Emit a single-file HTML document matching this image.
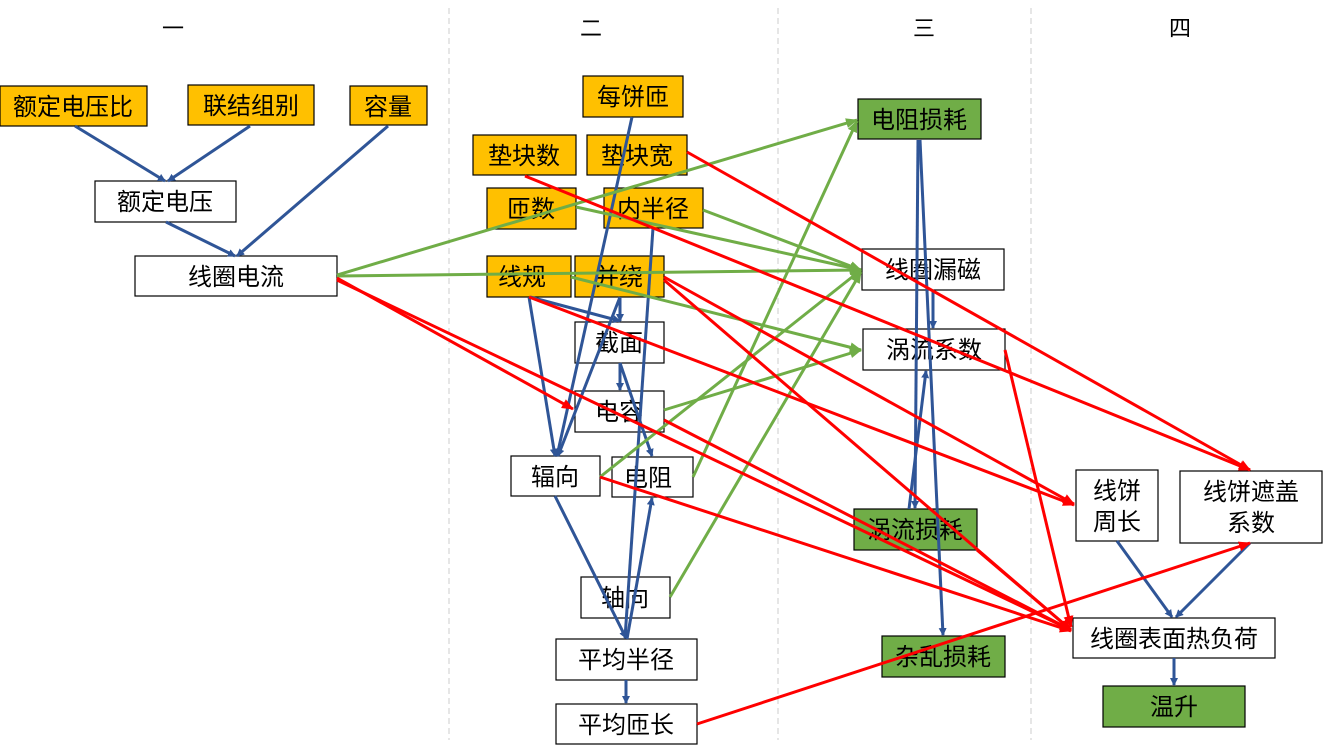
<!DOCTYPE html>
<html><head><meta charset="utf-8"><style>
html,body{margin:0;padding:0;background:#fff;}
svg{display:block;font-family:"Liberation Sans","Noto Sans CJK SC",sans-serif;}
</style></head><body>
<svg width="1331" height="746" viewBox="0 0 1331 746" xmlns="http://www.w3.org/2000/svg">
<defs>
<marker id="ab" markerWidth="8" markerHeight="8" refX="7" refY="4" orient="auto" markerUnits="userSpaceOnUse"><path d="M0,0 L8,4 L0,8 Z" fill="#2F5597"/></marker>
<marker id="ag" markerWidth="12" markerHeight="10" refX="11" refY="5" orient="auto" markerUnits="userSpaceOnUse"><path d="M0,0 L12,5 L0,10 Z" fill="#70AD47"/></marker>
<marker id="ar" markerWidth="12" markerHeight="10" refX="11" refY="5" orient="auto" markerUnits="userSpaceOnUse"><path d="M0,0 L12,5 L0,10 Z" fill="#FF0000"/></marker>
</defs>
<g stroke="#ccc" stroke-dasharray="6,4" stroke-width="1">
<line x1="449" y1="8" x2="449" y2="740"/><line x1="778" y1="8" x2="778" y2="740"/><line x1="1031" y1="8" x2="1031" y2="740"/>
</g>
<g font-size="22" text-anchor="middle" fill="#000">
<text x="173" y="36">一</text><text x="591" y="36">二</text><text x="924" y="36">三</text><text x="1180" y="36">四</text>
</g>
<g stroke="#000" stroke-width="1.2">
<rect x="0" y="86" width="147" height="40" fill="#FFC000"/>
<rect x="188" y="85" width="126" height="40" fill="#FFC000"/>
<rect x="350" y="86" width="77" height="39" fill="#FFC000"/>
<rect x="95" y="181" width="141" height="41" fill="#fff"/>
<rect x="135" y="256" width="202" height="40" fill="#fff"/>
<rect x="583" y="76" width="100" height="41" fill="#FFC000"/>
<rect x="473" y="135" width="103" height="40" fill="#FFC000"/>
<rect x="587" y="135" width="100" height="40" fill="#FFC000"/>
<rect x="487" y="188" width="89" height="41" fill="#FFC000"/>
<rect x="604" y="188" width="99" height="40" fill="#FFC000"/>
<rect x="487" y="256" width="84" height="41" fill="#FFC000"/>
<rect x="575" y="256" width="89" height="41" fill="#FFC000"/>
<rect x="575" y="322" width="89" height="41" fill="#fff"/>
<rect x="575" y="391" width="89" height="41" fill="#fff"/>
<rect x="511" y="456" width="89" height="40" fill="#fff"/>
<rect x="612" y="457" width="81" height="40" fill="#fff"/>
<rect x="581" y="577" width="89" height="41" fill="#fff"/>
<rect x="556" y="639" width="141" height="41" fill="#fff"/>
<rect x="556" y="704" width="141" height="40" fill="#fff"/>
<rect x="858" y="99" width="123" height="40" fill="#70AD47"/>
<rect x="862" y="249" width="142" height="41" fill="#fff"/>
<rect x="863" y="329" width="142" height="41" fill="#fff"/>
<rect x="854" y="509" width="123" height="41" fill="#70AD47"/>
<rect x="882" y="636" width="123" height="41" fill="#70AD47"/>
<rect x="1076" y="470" width="82" height="71" fill="#fff"/>
<rect x="1180" y="471" width="142" height="72" fill="#fff"/>
<rect x="1073" y="618" width="202" height="40" fill="#fff"/>
<rect x="1103" y="686" width="142" height="41" fill="#70AD47"/>
</g>
<g font-size="24" text-anchor="middle" fill="#000">
<text x="73" y="115">额定电压比</text>
<text x="251" y="114">联结组别</text>
<text x="388" y="115">容量</text>
<text x="165" y="210">额定电压</text>
<text x="236" y="285">线圈电流</text>
<text x="633" y="105">每饼匝</text>
<text x="524" y="164">垫块数</text>
<text x="637" y="164">垫块宽</text>
<text x="531" y="217">匝数</text>
<text x="653" y="217">内半径</text>
<text x="522" y="285">线规</text>
<text x="619" y="285">并绕</text>
<text x="619" y="351">截面</text>
<text x="619" y="420">电容</text>
<text x="555" y="485">辐向</text>
<text x="648" y="486">电阻</text>
<text x="625" y="606">轴向</text>
<text x="626" y="668">平均半径</text>
<text x="626" y="733">平均匝长</text>
<text x="919" y="128">电阻损耗</text>
<text x="933" y="278">线圈漏磁</text>
<text x="934" y="358">涡流系数</text>
<text x="915" y="538">涡流损耗</text>
<text x="943" y="665">杂乱损耗</text>
<text x="1117" y="499">线饼</text><text x="1117" y="530">周长</text>
<text x="1251" y="500">线饼遮盖</text><text x="1251" y="531">系数</text>
<text x="1174" y="647">线圈表面热负荷</text>
<text x="1174" y="715">温升</text>
</g>
<g stroke="#2F5597" stroke-width="3" fill="none" marker-end="url(#ab)">
<line x1="75" y1="126" x2="165" y2="181"/>
<line x1="250" y1="126" x2="168" y2="181"/>
<line x1="388" y1="126" x2="237" y2="256"/>
<line x1="166" y1="222" x2="235" y2="256"/>
<line x1="632" y1="117" x2="557" y2="456"/>
<line x1="529" y1="297" x2="555" y2="456"/>
<line x1="530" y1="297" x2="620" y2="321"/>
<line x1="620" y1="297" x2="620" y2="321"/>
<line x1="620" y1="297" x2="558" y2="456"/>
<line x1="620" y1="363" x2="620" y2="390"/>
<line x1="620" y1="363" x2="652" y2="456"/>
<line x1="653" y1="228" x2="625" y2="638"/>
<line x1="555" y1="496" x2="626" y2="638"/>
<line x1="627" y1="639" x2="652" y2="498"/>
<line x1="626" y1="680" x2="626" y2="703"/>
<line x1="918" y1="140" x2="915" y2="508"/>
<line x1="920" y1="140" x2="943" y2="635"/>
<line x1="933" y1="290" x2="933" y2="328"/>
<line x1="909" y1="509" x2="926" y2="371"/>
<line x1="1117" y1="541" x2="1172" y2="617"/>
<line x1="1250" y1="543" x2="1176" y2="617"/>
<line x1="1174" y1="658" x2="1174" y2="685"/>
</g>
<g stroke="#70AD47" stroke-width="3" fill="none" marker-end="url(#ag)">
<line x1="337" y1="275" x2="857" y2="120"/>
<line x1="337" y1="276" x2="861" y2="270"/>
<line x1="576" y1="207" x2="861" y2="270"/>
<line x1="703" y1="210" x2="861" y2="270"/>
<line x1="571" y1="277" x2="861" y2="350"/>
<line x1="664" y1="410" x2="861" y2="350"/>
<line x1="600" y1="477" x2="861" y2="270"/>
<line x1="693" y1="477" x2="857" y2="121"/>
<line x1="670" y1="597" x2="861" y2="272"/>
</g>
<g stroke="#FF0000" stroke-width="3" fill="none" marker-end="url(#ar)">
<line x1="337" y1="278" x2="573" y2="409"/>
<line x1="337" y1="280" x2="1071" y2="630"/>
<line x1="525" y1="176" x2="1250" y2="470"/>
<line x1="687" y1="152" x2="1250" y2="470"/>
<line x1="529" y1="297" x2="1074" y2="505"/>
<line x1="664" y1="277" x2="1074" y2="504"/>
<line x1="664" y1="280" x2="1071" y2="630"/>
<line x1="600" y1="477" x2="1071" y2="631"/>
<line x1="664" y1="420" x2="1071" y2="630"/>
<line x1="977" y1="550" x2="1071" y2="630"/>
<line x1="1005" y1="350" x2="1071" y2="627"/>
<line x1="697" y1="724" x2="1250" y2="543"/>
</g>
</svg>
</body></html>
